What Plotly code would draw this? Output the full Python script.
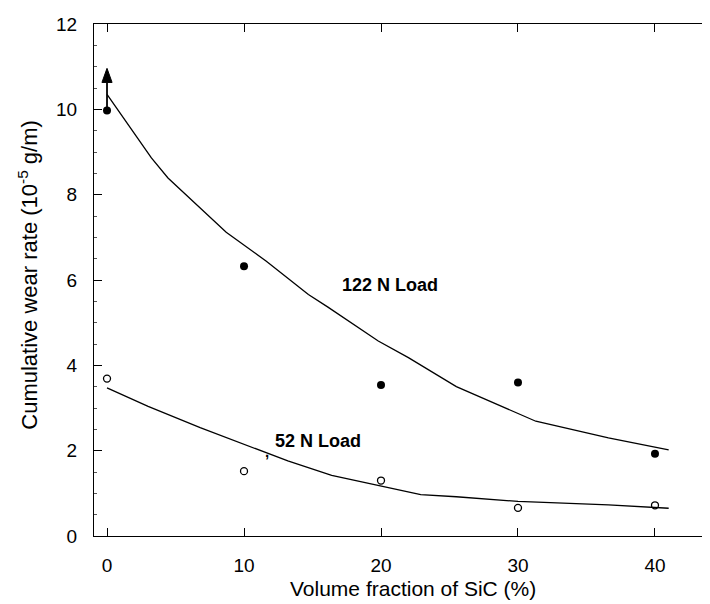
import plotly.graph_objects as go

# ---- data ----
sic_pct = [0, 10, 20, 30, 40]
wear_122N = [9.97, 6.32, 3.54, 3.60, 1.93]
wear_52N = [3.69, 1.52, 1.30, 0.66, 0.72]

fit122_x = [0, 3.24, 4.45, 8.7, 11.63, 14.7, 16.1, 19.8, 22.0, 25.5, 31.3, 36.6, 41.0]
fit122_y = [10.35, 8.86, 8.39, 7.12, 6.44, 5.66, 5.37, 4.57, 4.18, 3.50, 2.69, 2.30, 2.02]

fit52_x = [0, 3.0, 6.8, 11.75, 13.2, 16.4, 20.0, 22.9, 25.5, 30.0, 36.6, 41.0]
fit52_y = [3.47, 3.04, 2.54, 1.95, 1.76, 1.42, 1.17, 0.97, 0.92, 0.81, 0.73, 0.65]

# arrow on the 0 % point of the 122 N series (value is a lower bound)
arrow_x = 0
arrow_base = 9.97
arrow_tip = 10.96
head_len = 0.33
head_half = 0.37

x_ticks = [0, 10, 20, 30, 40]
y_ticks = [0, 2, 4, 6, 8, 10, 12]

FONT = "Arial, Liberation Sans, sans-serif"

fig = go.Figure()

fig.add_trace(go.Scatter(x=fit122_x, y=fit122_y, mode="lines",
                         line=dict(color="black", width=1.3), showlegend=False))
fig.add_trace(go.Scatter(x=fit52_x, y=fit52_y, mode="lines",
                         line=dict(color="black", width=1.3), showlegend=False))

# arrow shaft and head
fig.add_trace(go.Scatter(x=[arrow_x, arrow_x], y=[arrow_base, arrow_tip - head_len],
                         mode="lines", line=dict(color="black", width=1.8), showlegend=False))
fig.add_trace(go.Scatter(x=[arrow_x - head_half, arrow_x + head_half, arrow_x, arrow_x - head_half],
                         y=[arrow_tip - head_len, arrow_tip - head_len, arrow_tip, arrow_tip - head_len],
                         mode="lines", fill="toself", fillcolor="black",
                         line=dict(color="black", width=1), showlegend=False))

fig.add_trace(go.Scatter(x=sic_pct, y=wear_122N, mode="markers",
                         marker=dict(symbol="circle", size=8, color="black"), showlegend=False))
fig.add_trace(go.Scatter(x=sic_pct, y=wear_52N, mode="markers",
                         marker=dict(symbol="circle-open", size=7, color="black",
                                     line=dict(width=1.3)), showlegend=False))

# invisible trace to carry the right-hand tick axis
fig.add_trace(go.Scatter(x=[None], y=[None], yaxis="y2", showlegend=False, hoverinfo="skip"))

fig.add_annotation(x=16.99, y=5.89, text="<b>122 N Load</b>", showarrow=False,
                   xanchor="left", yanchor="middle", font=dict(family=FONT, size=18, color="black"))
fig.add_annotation(x=12.12, y=2.23, text="<b>52 N Load</b>", showarrow=False,
                   xanchor="left", yanchor="middle", font=dict(family=FONT, size=18, color="black"))
fig.add_annotation(x=11.68, y=1.98, text="<b>,</b>", showarrow=False,
                   xanchor="center", yanchor="middle", font=dict(family=FONT, size=15, color="black"))

# axis titles
fig.add_annotation(xref="paper", yref="paper", x=0.511, y=-0.103,
                   text="Volume fraction of SiC (%)", showarrow=False,
                   xanchor="center", yanchor="middle", font=dict(family=FONT, size=21, color="black"))
fig.add_annotation(xref="paper", yref="paper", x=-0.106, y=0.51,
                   text="Cumulative wear rate (10<sup>-5</sup> g/m)", showarrow=False, textangle=-90,
                   xanchor="center", yanchor="middle", font=dict(family=FONT, size=22, color="black"))

fig.update_layout(
    width=710, height=604,
    margin=dict(l=86, r=0, t=16, b=76),
    paper_bgcolor="white", plot_bgcolor="white",
    font=dict(family=FONT, size=19, color="black"),
    xaxis=dict(range=[-0.95, 44.6], tickvals=x_ticks, ticks="inside", ticklen=8, tickwidth=1.2,
               tickcolor="black", showline=True, linecolor="black", linewidth=1.2,
               mirror="ticks", showgrid=False, zeroline=False, ticklabelstandoff=12,
               tickfont=dict(family=FONT, size=19, color="black")),
    yaxis=dict(range=[0, 12], tickvals=y_ticks, ticks="inside", ticklen=8, tickwidth=1.2,
               tickcolor="black", showline=True, linecolor="black", linewidth=1.2,
               showgrid=False, zeroline=False, ticklabelstandoff=12,
               minor=dict(ticks="inside", ticklen=3, dtick=0.5, tick0=0, tickcolor="#555555",
                          showgrid=False),
               tickfont=dict(family=FONT, size=19, color="black")),
    yaxis2=dict(range=[0, 12], overlaying="y", side="right", tick0=0.03, dtick=1.38,
                ticks="inside", ticklen=3, tickcolor="#444444", showticklabels=False,
                showline=False, showgrid=False, zeroline=False),
)

fig.write_html("out.html")
